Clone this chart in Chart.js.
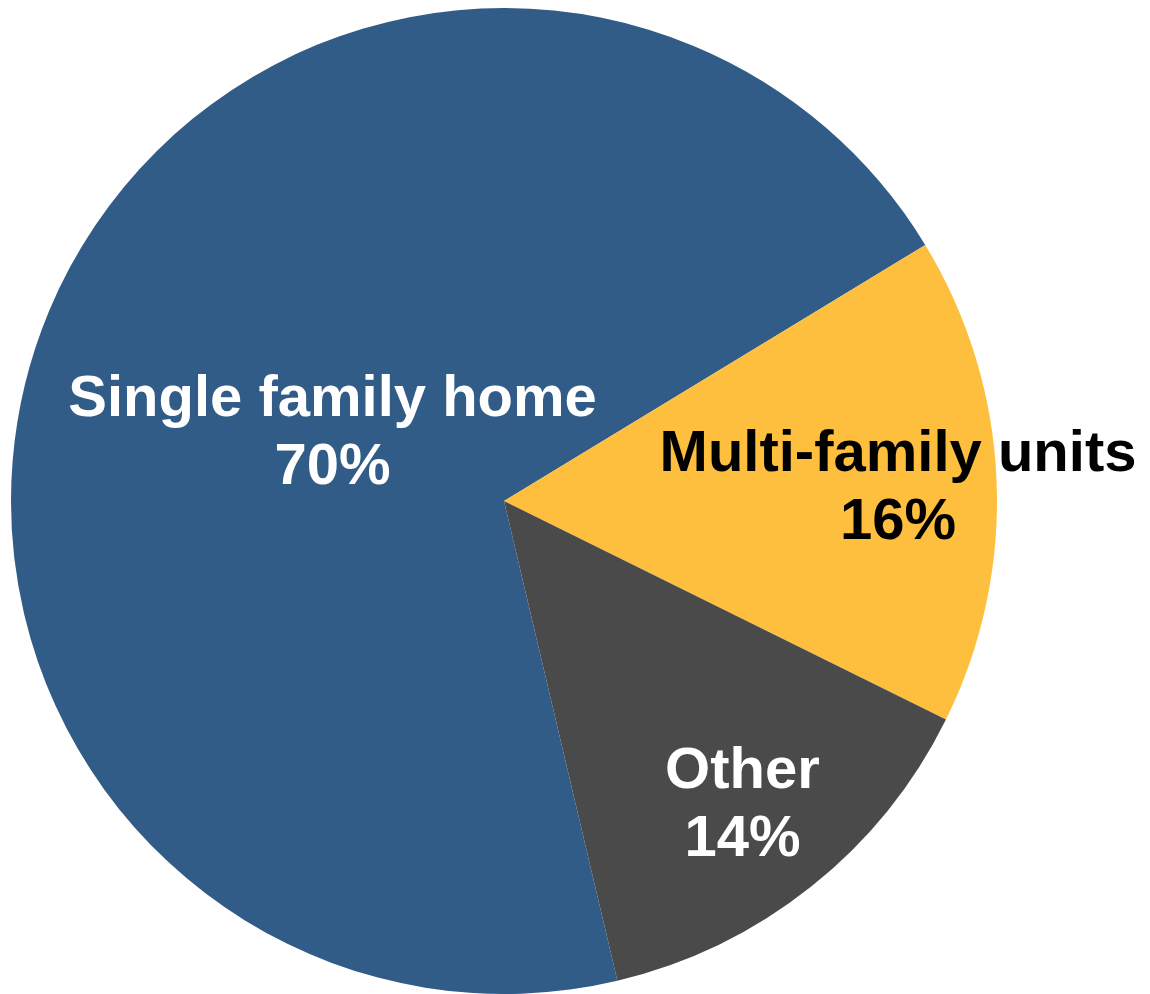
<!DOCTYPE html>
<html>
<head>
<meta charset="utf-8">
<title>Housing type</title>
<script src="https://cdn.jsdelivr.net/npm/chart.js@4/dist/chart.umd.min.js"></script>
<style>
  html, body { margin: 0; padding: 0; background: #fff; }
  #wrap { width: 1150px; height: 994px; }
</style>
</head>
<body>
<div id="wrap"><canvas id="pieChart" width="1150" height="994"></canvas></div>
<script>
const categories = ['Single family home', 'Multi-family units', 'Other'];
const shares = [70, 16, 14];

const sliceColors = ['#305c87', '#febe3e', '#4a4a4a'];
const labelColors = ['#ffffff', '#000000', '#ffffff'];
// how far out along each slice's middle the label sits (fraction of radius)
const labelRadius = [0.377, 0.80, 0.777];

// draws "name / NN%" in the middle of every slice
const sliceLabels = {
    id: 'sliceLabels',
    afterDatasetsDraw(chart) {
        const ctx = chart.ctx;
        const meta = chart.getDatasetMeta(0);
        ctx.save();
        ctx.font = 'bold 58px "Liberation Sans", Arial, sans-serif';
        ctx.textAlign = 'center';
        ctx.textBaseline = 'alphabetic';
        meta.data.forEach((arc, i) => {
            const mid = (arc.startAngle + arc.endAngle) / 2;
            const r = arc.outerRadius * labelRadius[i];
            const x = arc.x + Math.cos(mid) * r;
            const y = arc.y + Math.sin(mid) * r;
            ctx.fillStyle = labelColors[i];
            ctx.fillText(categories[i], x, y - 13);
            ctx.fillText(shares[i] + '%', x, y + 55);
        });
        ctx.restore();
    }
};

new Chart(document.getElementById('pieChart'), {
    type: 'pie',
    data: {
        labels: categories,
        datasets: [{
            data: shares,
            backgroundColor: sliceColors,
            borderWidth: 0
        }]
    },
    options: {
        responsive: false,
        animation: false,
        rotation: 166.7,
        layout: { padding: { left: 11, top: 8, right: 153, bottom: 0 } },
        plugins: {
            legend: { display: false },
            tooltip: { enabled: false }
        }
    },
    plugins: [sliceLabels]
});
</script>
</body>
</html>
